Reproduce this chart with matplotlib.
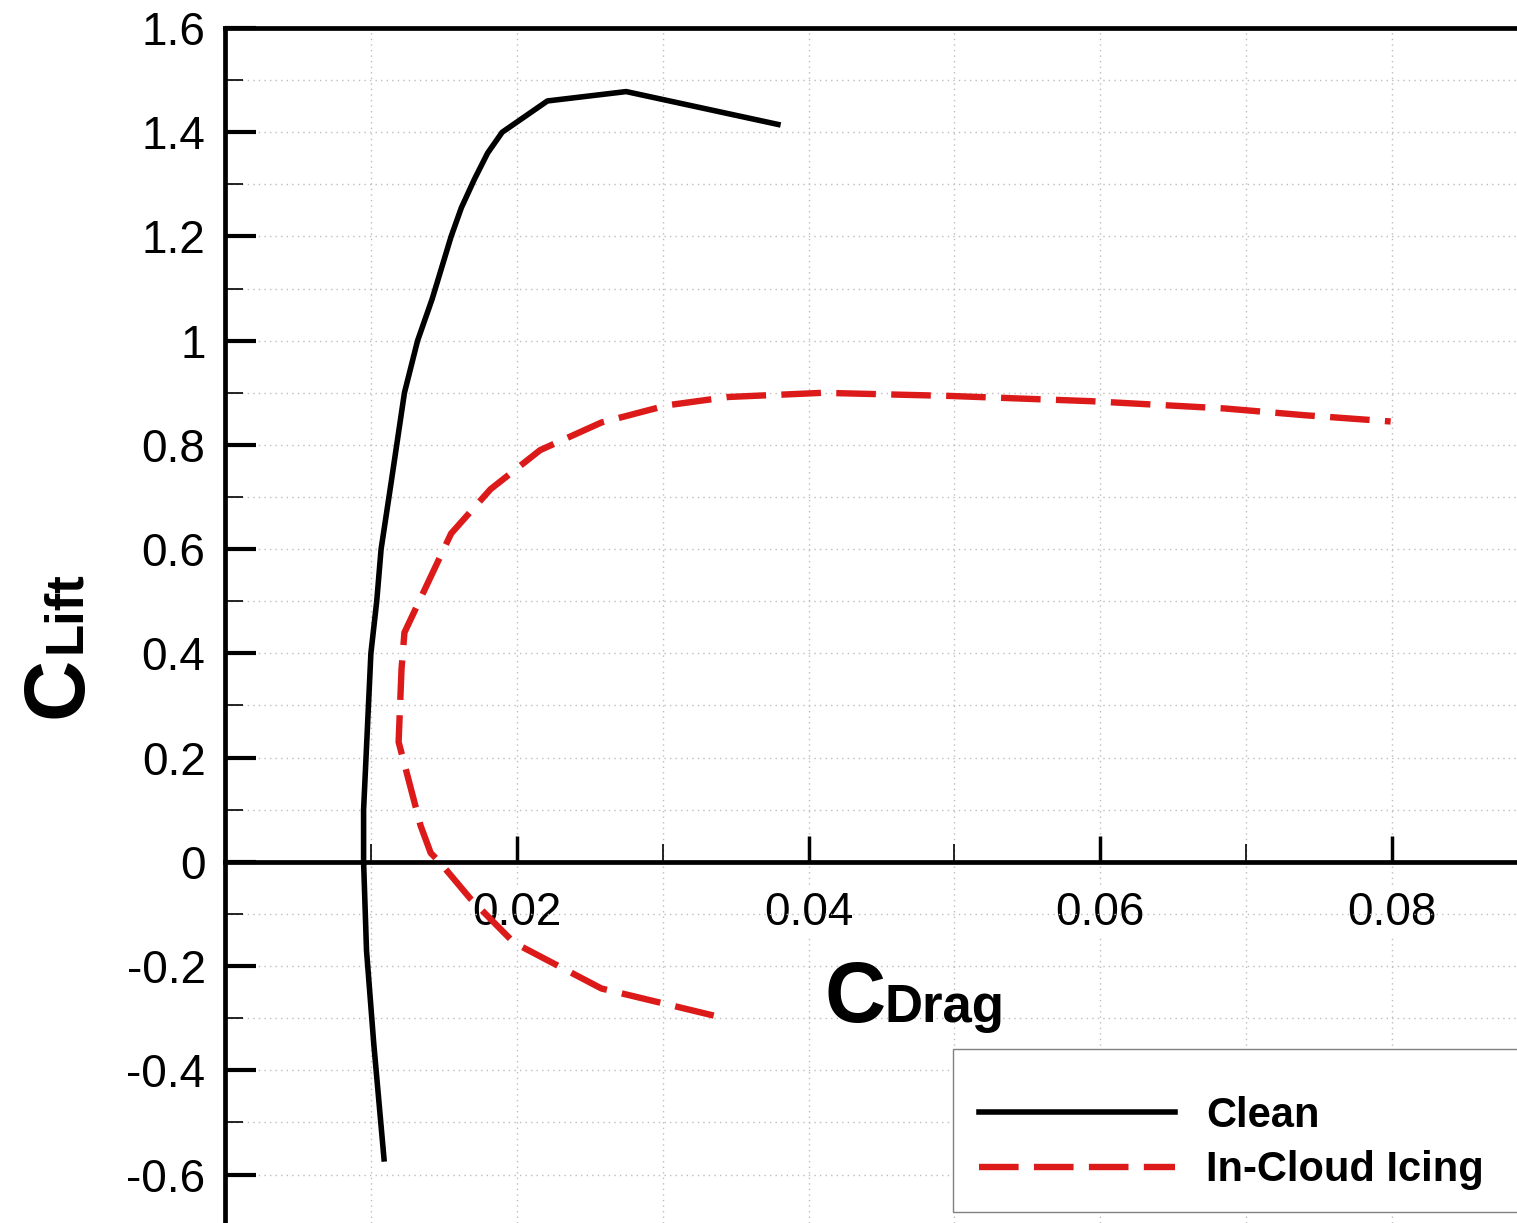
import matplotlib
matplotlib.use("Agg")
import matplotlib.pyplot as plt
from matplotlib.patches import Rectangle
from matplotlib.ticker import MultipleLocator, FixedLocator, FuncFormatter

# drag polar, clean airfoil
clean_cd = [0.0109, 0.0102, 0.0097, 0.0095, 0.0095, 0.0097, 0.0100, 0.0104, 0.0107, 0.0114,
            0.0123, 0.0132, 0.0142, 0.0155, 0.0162, 0.0171, 0.0180, 0.0190, 0.0221, 0.0275, 0.0379]
clean_cl = [-0.57, -0.35, -0.17, 0.0, 0.10, 0.22, 0.40, 0.50, 0.60, 0.73,
            0.90, 1.00, 1.08, 1.20, 1.255, 1.31, 1.36, 1.40, 1.46, 1.478, 1.415]

# drag polar, in-cloud icing
ice_cd = [0.0335, 0.0258, 0.0198, 0.0168, 0.0147, 0.0141, 0.0134, 0.0124, 0.0119, 0.0121,
          0.0123, 0.0139, 0.0155, 0.0182, 0.0216, 0.0258, 0.0303, 0.0345, 0.0410, 0.0497,
          0.0593, 0.0685, 0.0740, 0.0799]
ice_cl = [-0.295, -0.243, -0.155, -0.07, 0.0, 0.017, 0.07, 0.177, 0.23, 0.37,
          0.44, 0.535, 0.63, 0.715, 0.79, 0.843, 0.876, 0.892, 0.900, 0.894,
          0.884, 0.870, 0.857, 0.845]

x_ticks = [0.02, 0.04, 0.06, 0.08]

plt.rcParams['font.family'] = ['Liberation Sans', 'DejaVu Sans']

W, H = 1517, 1223
fig = plt.figure(figsize=(W / 100, H / 100), dpi=100)
ax = fig.add_axes([225 / W, 0, 1 - 225 / W, 1 - 28 / H])

ax.plot(clean_cd, clean_cl, color="black", lw=4.0, label="Clean", zorder=3)
ax.plot(ice_cd, ice_cl, color="#dd1a1a", lw=4.6, dashes=(6.2, 2.4), label="In-Cloud Icing", zorder=3)

ax.set_xlim(0, (W - 224) / 14600)
ax.set_ylim(-0.693, 1.6)

# spines
ax.spines['right'].set_visible(False)
ax.spines['bottom'].set_position(('data', 0))
for s in ['left', 'top', 'bottom']:
    ax.spines[s].set_linewidth(3.4)

# ticks
ax.xaxis.set_major_locator(FixedLocator(x_ticks))
ax.xaxis.set_minor_locator(MultipleLocator(0.01))
ax.yaxis.set_major_locator(MultipleLocator(0.2))
ax.yaxis.set_minor_locator(MultipleLocator(0.1))
ax.yaxis.set_major_formatter(FuncFormatter(lambda v, p: "%g" % round(v, 2)))
ax.xaxis.set_major_formatter(FuncFormatter(lambda v, p: "%g" % round(v, 3)))
ax.tick_params(axis='y', which='major', direction='in', length=22, width=3, labelsize=33, pad=14)
ax.tick_params(axis='y', which='minor', direction='in', length=13, width=1.2)
ax.tick_params(axis='x', which='major', direction='in', length=19, width=2.5, labelsize=33, pad=21)
ax.tick_params(axis='x', which='minor', direction='in', length=13, width=1.2)
ax.tick_params(top=False, right=False)

ax.grid(True, which='both', color='#bdbdbd', linestyle=(0, (1, 3)), linewidth=1.0)
ax.set_axisbelow(True)

for lbl in ax.get_xticklabels():
    lbl.set_bbox(dict(facecolor='white', edgecolor='none', pad=2))

# axis labels, big C with a smaller subscript
fig.text(825 / W, 1 - 1022 / H, "C", fontsize=61, fontweight='bold', ha='left', va='baseline')
fig.text(885 / W, 1 - 1022 / H, "Drag", fontsize=38, fontweight='bold', ha='left', va='baseline')
fig.text(82 / W, 1 - 718 / H, "C", fontsize=61, fontweight='bold', ha='left', va='baseline',
         rotation=90, rotation_mode='anchor')
fig.text(80 / W, 1 - 653 / H, "Lift", fontsize=38, fontweight='bold', ha='left', va='baseline',
         rotation=90, rotation_mode='anchor')

# legend box runs off the right edge of the picture, so draw the frame separately
box = Rectangle((953 / W, 1 - 1212 / H), 600 / W, 163 / H, transform=fig.transFigure,
                facecolor='white', edgecolor='#808080', linewidth=1.0, zorder=4, clip_on=False)
ax.add_patch(box)

leg = ax.legend(loc='upper left', bbox_to_anchor=(953 / W, 1 - 1070 / H),
                bbox_transform=fig.transFigure, prop={'size': 30, 'weight': 'bold'},
                handlelength=4.7, handletextpad=0.75, borderpad=0.62, labelspacing=0.35,
                borderaxespad=0, frameon=False)
leg.set_zorder(6)

fig.savefig("out.png", dpi=100, facecolor='white')
